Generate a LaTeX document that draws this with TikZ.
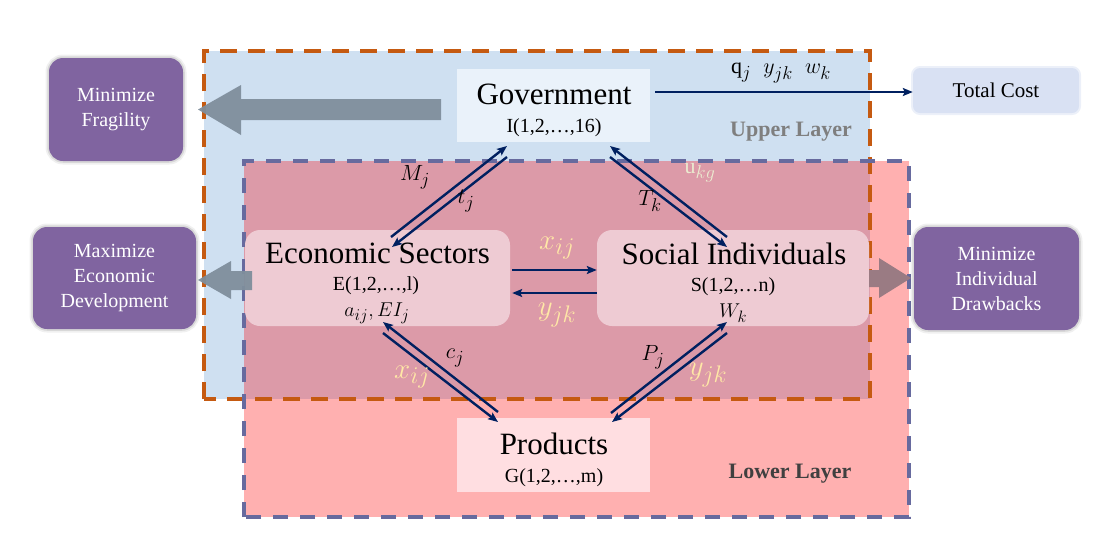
\RequirePackage{fix-cm}
\documentclass[tikz,border=0pt]{standalone}
\usepackage{fontspec}
\setmainfont{Liberation Serif}
\usetikzlibrary{arrows.meta}
\DeclareMathSizes{22}{22}{18.5}{14}
\DeclareMathSizes{29}{29}{24}{18}
\DeclareMathSizes{20}{20}{16.5}{12.5}
\definecolor{upperblue}{HTML}{CFE0F1}
\definecolor{lowerpink}{HTML}{FFB0B0}
\definecolor{overlap}{HTML}{DC9AA8}
\definecolor{orangeb}{HTML}{C55A11}
\definecolor{purpleb}{HTML}{676A9E}
\definecolor{boxpurple}{HTML}{8064A0}
\definecolor{navy}{HTML}{002060}
\definecolor{govfill}{HTML}{EAF2FA}
\definecolor{secfill}{HTML}{EECBD3}
\definecolor{prodfill}{HTML}{FFDEE1}
\definecolor{costfill}{HTML}{D9E1F3}
\definecolor{cream}{HTML}{FFE8A6}
\definecolor{creamg}{HTML}{EBEBD0}
\definecolor{bigarrow}{HTML}{7F8E9C}
\definecolor{rarrow}{HTML}{9A7B83}
\definecolor{layergray}{HTML}{7F7F7F}
\definecolor{layerdark}{HTML}{404040}
\tikzset{
  pbox/.style={rounded corners=14pt, fill=boxpurple, text=white, align=center,
    font=\fontsize{20}{25}\selectfont, inner sep=0pt,
    preaction={draw=black, line width=7pt, draw opacity=0.06},
    preaction={draw=black, line width=3.5pt, draw opacity=0.10}},
  plainbox/.style={inner sep=0pt},
  bigtxt/.style={font=\fontsize{31}{36}\selectfont, inner sep=0pt},
  smalltxt/.style={font=\fontsize{20}{24}\selectfont, inner sep=0pt},
  lab/.style={font=\fontsize{22}{26}\selectfont, inner sep=0pt},
  creamlab/.style={font=\fontsize{29}{33}\selectfont, inner sep=0pt, text=cream},
  conn/.style={draw=navy, line width=2.4pt, -{Stealth[length=10pt,width=8pt,inset=2pt]}},
  layertxt/.style={font=\bfseries\fontsize{22}{26}\selectfont, inner sep=0pt}
}
\begin{document}
\begin{tikzpicture}[x=1pt,y=-1pt]
\useasboundingbox (0,0) rectangle (1110,550);
% layers
\fill[upperblue] (204,51) rectangle (870,399);
\fill[lowerpink] (244,161) rectangle (909,517);
\fill[overlap] (244,161) rectangle (870,399);
\draw[orangeb, line width=3.2pt, dash pattern=on 17pt off 11pt] (204,399) -- (204,51) -- (870,51) -- (870,399) -- cycle;
\draw[purpleb, line width=3.2pt, dash pattern=on 15pt off 12pt] (244,517) -- (244,161) -- (909,161) -- (909,517) -- cycle;

% big gray arrows
\fill[bigarrow, opacity=0.95] (441,99) -- (241,99) -- (241,85) -- (198,109.5) -- (241,135) -- (241,120) -- (441,120) -- cycle;

% boxes
\node[pbox, minimum width=134pt, minimum height=103pt] (minfrag) at (116,109.5) {Minimize\\Fragility};
\node[pbox, minimum width=163pt, minimum height=102pt] (maxecon) at (114.5,278) {Maximize\\Economic\\Development};
\node[pbox, minimum width=165pt, minimum height=103pt] (mindraw) at (996.5,278.5) {Minimize\\Individual\\Drawbacks};
\node[plainbox, fill=govfill, minimum width=193pt, minimum height=73pt] (gov) at (553.5,105.5) {};
\node[plainbox, fill=costfill, rounded corners=7pt, minimum width=166pt, minimum height=45pt,
  preaction={draw=costfill, line width=4pt, draw opacity=0.5},
  font=\fontsize{21}{25}\selectfont] (total) at (996,90.5) {Total Cost};
\node[plainbox, fill=secfill, rounded corners=15pt, minimum width=265pt, minimum height=96pt] (es) at (377.5,278) {};
\node[plainbox, fill=secfill, rounded corners=15pt, minimum width=272pt, minimum height=96pt] (si) at (733,278) {};
\node[plainbox, fill=prodfill, minimum width=193pt, minimum height=74pt] (prod) at (553.5,455) {};

% small gray arrows
\fill[bigarrow, opacity=0.95] (252,271) -- (231,271) -- (231,261) -- (198,280) -- (231,299) -- (231,290) -- (252,290) -- cycle;
\fill[rarrow] (869,270) -- (879,270) -- (879,258) -- (911,278) -- (879,298) -- (879,287) -- (869,287) -- cycle;

% texts in boxes
\node[bigtxt] (govt) at (554,94) {Government};
\node[smalltxt] (govi) at (554,127.5) {I(1,2,…,16)};
\node[bigtxt] (est) at (377.5,253.5) {Economic Sectors};
\node[smalltxt] (esi) at (376,285.5) {E(1,2,…,l)};
\node[smalltxt] (esv) at (377,313) {$a_{ij}, EI_j$};
\node[bigtxt] (sit) at (734,254) {Social Individuals};
\node[smalltxt] (sii) at (733,287) {S(1,2,…n)};
\node[smalltxt] (siv) at (733,313) {$W_k$};
\node[bigtxt] (prodt) at (554,444) {Products};
\node[smalltxt] (prodi) at (554,477.5) {G(1,2,…,m)};
\node[layertxt, text=layergray] (upl) at (791,132) {Upper Layer};
\node[layertxt, text=layerdark] (lowl) at (790,474) {Lower Layer};

% connectors
\coordinate (gt) at ([xshift=5pt,yshift=13.5pt]gov.east);
\draw[conn] (gt) -- (gt -| total.west);
\node[lab] (qyw) at (781,73) {$\mathrm{q}_j\;\; y_{jk}\;\; w_k$};

\draw[conn] ([xshift=2pt,yshift=8pt]es.east) -- ([yshift=8pt]si.west);
\draw[conn] ([yshift=-15pt]si.west) -- ([xshift=2pt,yshift=-15pt]es.east);

\coordinate (ge1s) at (391,237); \coordinate (ge1e) at (507,146);
\coordinate (ge2s) at (507,157); \coordinate (ge2e) at (392,247);
\coordinate (gs1s) at (727,237); \coordinate (gs1e) at (610,146);
\coordinate (gs2s) at (610,157); \coordinate (gs2e) at (727,247);
\coordinate (ep1s) at (498,412); \coordinate (ep1e) at (383,322);
\coordinate (ep2s) at (383,333); \coordinate (ep2e) at (498,422);
\coordinate (sp1s) at (611,413); \coordinate (sp1e) at (727,322);
\coordinate (sp2s) at (727,333); \coordinate (sp2e) at (612,422);
\draw[conn] (ge1s) -- (ge1e);
\draw[conn] (ge2s) -- (ge2e);
\draw[conn] (gs1s) -- (gs1e);
\draw[conn] (gs2s) -- (gs2e);
\draw[conn] (ep1s) -- (ep1e);
\draw[conn] (ep2s) -- (ep2e);
\draw[conn] (sp1s) -- (sp1e);
\draw[conn] (sp2s) -- (sp2e);

% labels
\node[lab] (lmj) at (415,177) {$M_j$};
\node[lab] (ltj) at (466,201) {$t_j$};
\node[lab] (ltk) at (650,201) {$T_k$};
\node[lab, text=creamg] (lukg) at (700,173) {$\mathrm{u}_{kg}$};
\node[lab] (lcj) at (455,358) {$c_j$};
\node[creamlab] (lxij1) at (412,377) {$x_{ij}$};
\node[lab] (lpj) at (653,357) {$P_j$};
\node[creamlab] (lyjk1) at (708,375) {$y_{jk}$};
\node[creamlab] (lxij2) at (557,248) {$x_{ij}$};
\node[creamlab] (lyjk2) at (557,315) {$y_{jk}$};
\end{tikzpicture}
\end{document}
